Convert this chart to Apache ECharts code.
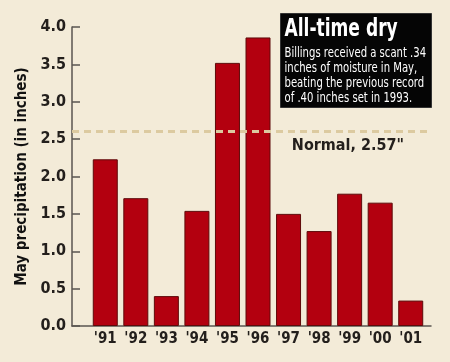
<!DOCTYPE html>
<html>
<head>
<meta charset="utf-8">
<script src="https://cdn.jsdelivr.net/npm/echarts@6/dist/echarts.min.js"></script>
<style>
html,body{margin:0;padding:0;background:#f3ebd8;}
#c{width:450px;height:362px;}
</style>
</head>
<body>
<div id="c"></div>
<script>
var categories = ["'91","'92","'93","'94","'95","'96","'97","'98","'99","'00","'01"];
var precipitation = [2.23, 1.71, 0.40, 1.54, 3.52, 3.86, 1.50, 1.27, 1.77, 1.65, 0.34];
var yTicks = {min: 0, max: 4, interval: 0.5};
var normalValue = 2.6;
var normalLabel = 'Normal, 2.57"';
var yTitle = 'May precipitation (in inches)';
var boxTitle = 'All-time dry';
var boxLines = ['Billings received a scant .34', 'inches of moisture in May,', 'beating the previous record', 'of .40 inches set in 1993.'];

var FONT = '"Liberation Sans Narrow", "DejaVu Sans Condensed", "Roboto Condensed", sans-serif';
var chart = echarts.init(document.getElementById('c'), null, {renderer: 'canvas'});
chart.setOption({
  backgroundColor: '#f3ebd8',
  animation: false,
  grid: [
    {left: 72, right: 19, top: 27, bottom: 36},
    {left: 90, right: 24, top: 27, bottom: 36}
  ],
  xAxis: [
    {gridIndex: 0, type: 'category', data: [''],
     axisLine: {lineStyle: {color: '#5a5550', width: 1.5}},
     axisTick: {inside: true, length: 7, lineStyle: {color: '#5a5550', width: 1.5}},
     axisLabel: {show: false}},
    {gridIndex: 1, type: 'category', data: categories,
     axisLine: {show: false}, axisTick: {show: false},
     axisLabel: {interval: 0, margin: 6, fontFamily: FONT, fontWeight: 'bold', fontSize: 15, color: '#231f1c'}}
  ],
  yAxis: [
    {gridIndex: 0, type: 'value', min: yTicks.min, max: yTicks.max, interval: yTicks.interval,
     name: yTitle, nameLocation: 'middle', nameGap: 36, nameRotate: 90,
     nameTextStyle: {fontFamily: FONT, fontWeight: 'bold', fontSize: 15, color: '#111'},
     axisLine: {show: true, lineStyle: {color: '#5a5550', width: 1.5}},
     axisTick: {show: true, inside: true, length: 8, lineStyle: {color: '#5a5550', width: 1.5}},
     splitLine: {show: false},
     axisLabel: {margin: 6, fontFamily: FONT, fontWeight: 'bold', fontSize: 16, color: '#231f1c',
       formatter: function(v){return v.toFixed(1);}}},
    {gridIndex: 1, type: 'value', min: yTicks.min, max: yTicks.max, interval: yTicks.interval, show: false}
  ],
  series: [
    {type: 'bar', xAxisIndex: 0, yAxisIndex: 0, data: [],
     markLine: {silent: true, symbol: 'none',
       lineStyle: {type: [7, 5], width: 3, color: '#dccaa0'},
       label: {show: true, position: 'insideEndBottom', distance: [27, 6], formatter: normalLabel,
         fontFamily: FONT, fontWeight: 'bold', fontSize: 16, color: '#231f1c'},
       data: [{yAxis: normalValue}]}},
    {type: 'bar', xAxisIndex: 1, yAxisIndex: 1, data: precipitation, barWidth: 25,
     itemStyle: {color: '#b3000f', borderColor: '#5e0a0a', borderWidth: 1},
     z: 3}
  ],
  graphic: [
    {type: 'group', left: 280, top: 13, children: [
      {type: 'rect', shape: {x: 0, y: 0, width: 151, height: 94}, style: {fill: '#050505', stroke: '#333', lineWidth: 1}},
      {type: 'text', x: 4, y: 3, scaleX: 0.76, style: {text: boxTitle, fill: '#fff', font: 'bold 25px ' + FONT}},
      {type: 'text', x: 4, y: 32, scaleX: 0.8, style: {text: boxLines.join('\n'), fill: '#fff', font: '14px ' + FONT, lineHeight: 15}}
    ]}
  ]
});
</script>
</body>
</html>
